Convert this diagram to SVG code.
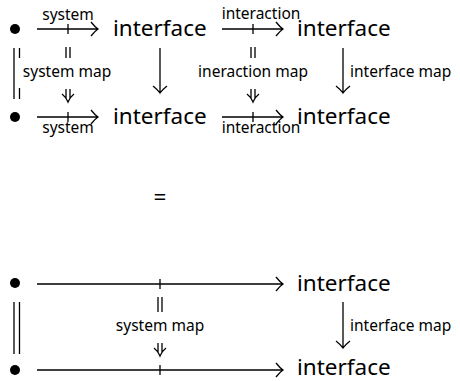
<svg xmlns="http://www.w3.org/2000/svg" width="460" height="381" viewBox="0 0 460 381">
<style>
.obj{font-family:"Noto Sans","Open Sans",sans-serif;font-size:22.5px;fill:#000}
.lbl{font-family:"Noto Sans","Open Sans",sans-serif;font-size:15.5px;fill:#000}
.ln{stroke:#000;stroke-width:1.3;fill:none}
</style>
<rect width="460" height="381" fill="#fff"/>
<g id="n-pt1"><circle cx="15" cy="29" r="5"/></g>
<g id="n-if1"><text class="obj" x="113" y="36">interface</text></g>
<g id="n-if2"><text class="obj" x="297" y="36">interface</text></g>
<g id="n-pt2"><circle cx="15" cy="117" r="5"/></g>
<g id="n-if3"><text class="obj" x="113" y="124">interface</text></g>
<g id="n-if4"><text class="obj" x="297" y="124">interface</text></g>
<g id="n-eq"><text class="obj" x="160" y="205" text-anchor="middle">=</text></g>
<g id="n-pt3"><circle cx="15" cy="283" r="5"/></g>
<g id="n-if5"><text class="obj" x="297" y="291">interface</text></g>
<g id="n-pt4"><circle cx="15" cy="370" r="5"/></g>
<g id="n-if6"><text class="obj" x="297" y="375">interface</text></g>
<g id="connectors">
<path class="ln" d="M37 29H97M68 24V34M91 22Q95 27 98 29Q95 31 91 36"/>
<text class="lbl" x="68" y="20" text-anchor="middle">system</text>
<path class="ln" d="M222 29H282M253 24V34M276 22Q280 27 283 29Q280 31 276 36"/>
<text class="lbl" x="261" y="19" text-anchor="middle">interaction</text>
<path class="ln" d="M37 117H97M68 112V122M91 110Q95 115 98 117Q95 119 91 124"/>
<text class="lbl" x="68" y="133" text-anchor="middle">system</text>
<path class="ln" d="M222 117H282M253 112V122M276 110Q280 115 283 117Q280 119 276 124"/>
<text class="lbl" x="261" y="133" text-anchor="middle">interaction</text>
<path class="ln" d="M14 48V99M19.5 48V58M19.5 88V99"/>
<path class="ln" d="M160 48V93M153 86Q158 90 160 93Q162 90 167 86"/>
<path class="ln" d="M343 48V93M336 86Q341 90 343 93Q345 90 350 86"/>
<text class="lbl" x="350" y="77">interface map</text>
<path class="ln" d="M66 47V58M70 47V58"/>
<text class="lbl" x="67" y="77" text-anchor="middle">system map</text>
<path class="ln" d="M66 89V99M70 89V99M62 94Q66 97 68 102Q70 97 74 94"/>
<path class="ln" d="M251 47V58M255 47V58"/>
<text class="lbl" x="253" y="77" text-anchor="middle">ineraction map</text>
<path class="ln" d="M251 89V99M255 89V99M247 94Q251 97 253 102Q255 97 259 94"/>
<path class="ln" d="M37 284H282M160 279V289M276 277Q280 282 283 284Q280 286 276 291"/>
<path class="ln" d="M37 370H282M160 365V375M276 363Q280 368 283 370Q280 372 276 377"/>
<path class="ln" d="M14 302V354M19.5 302V354"/>
<path class="ln" d="M158 297V312M162 297V312"/>
<text class="lbl" x="160" y="331" text-anchor="middle">system map</text>
<path class="ln" d="M158 343V353M162 343V353M154 348Q158 351 160 356Q162 351 166 348"/>
<path class="ln" d="M343 302V348M336 341Q341 345 343 348Q345 345 350 341"/>
<text class="lbl" x="350" y="331">interface map</text>
</g>
</svg>
